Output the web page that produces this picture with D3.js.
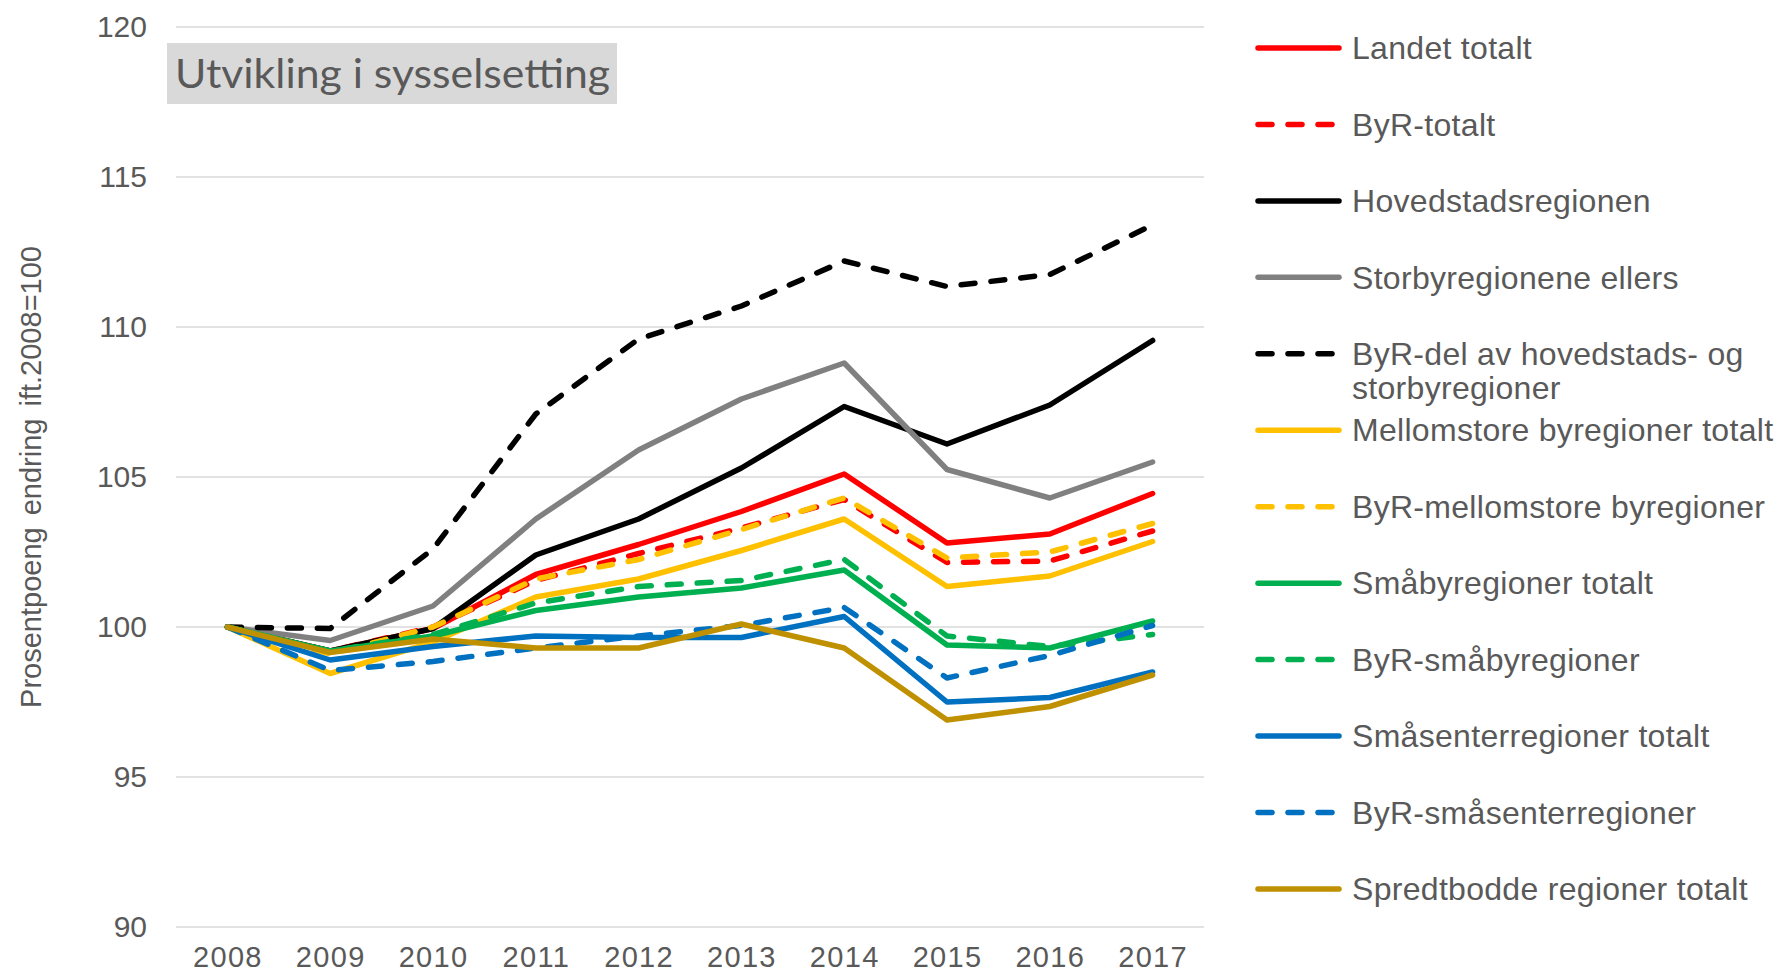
<!DOCTYPE html>
<html>
<head>
<meta charset="utf-8">
<script src="https://cdn.jsdelivr.net/npm/d3@7"></script>
<style>
  body { margin: 0; background: #fff; }
  svg { display: block; }
  text { font-family: "Liberation Sans", Arial, sans-serif; fill: #595959; }
</style>
</head>
<body>
<svg id="svg"></svg>
<script>
const years = [2008, 2009, 2010, 2011, 2012, 2013, 2014, 2015, 2016, 2017];
const yTicks = [90, 95, 100, 105, 110, 115, 120];

const landetTotalt    = [100, 99.2, 99.95, 101.75, 102.75, 103.85, 105.1, 102.8, 103.1, 104.45];
const byrTotalt       = [100, 99.2, 100.0, 101.55, 102.45, 103.3, 104.25, 102.15, 102.2, 103.2];
const hovedstad       = [100, 99.2, 99.95, 102.4, 103.6, 105.3, 107.35, 106.1, 107.4, 109.55];
const storbyEllers    = [100, 99.55, 100.7, 103.6, 105.9, 107.6, 108.8, 105.25, 104.3, 105.5];
const byrDelHovedStor = [100, 99.95, 102.6, 107.1, 109.6, 110.7, 112.2, 111.35, 111.75, 113.4];
const mellomTotalt    = [100, 98.45, 99.5, 101.0, 101.6, 102.55, 103.6, 101.35, 101.7, 102.85];
const byrMellom       = [100, 99.1, 100.0, 101.6, 102.25, 103.25, 104.3, 102.3, 102.5, 103.45];
const smabyTotalt     = [100, 99.2, 99.7, 100.55, 101.0, 101.3, 101.9, 99.4, 99.3, 100.2];
const byrSmaby        = [100, 99.2, 99.75, 100.8, 101.35, 101.55, 102.25, 99.7, 99.35, 99.75];
const smasenterTotalt = [100, 98.9, 99.35, 99.7, 99.65, 99.65, 100.35, 97.5, 97.65, 98.5];
const byrSmasenter    = [100, 98.55, 98.85, 99.3, 99.7, 100.05, 100.65, 98.3, 99.05, 100.05];
const spredtbodde     = [100, 99.15, 99.6, 99.3, 99.3, 100.1, 99.3, 96.9, 97.35, 98.4];

const series = [
  { name: ["Landet totalt"], values: landetTotalt, color: "#ff0000", dashed: false },
  { name: ["ByR-totalt"], values: byrTotalt, color: "#ff0000", dashed: true },
  { name: ["Hovedstadsregionen"], values: hovedstad, color: "#000000", dashed: false },
  { name: ["Storbyregionene ellers"], values: storbyEllers, color: "#808080", dashed: false },
  { name: ["ByR-del av hovedstads- og", "storbyregioner"], values: byrDelHovedStor, color: "#000000", dashed: true },
  { name: ["Mellomstore byregioner totalt"], values: mellomTotalt, color: "#ffc000", dashed: false },
  { name: ["ByR-mellomstore byregioner"], values: byrMellom, color: "#ffc000", dashed: true },
  { name: ["Småbyregioner totalt"], values: smabyTotalt, color: "#00b050", dashed: false },
  { name: ["ByR-småbyregioner"], values: byrSmaby, color: "#00b050", dashed: true },
  { name: ["Småsenterregioner totalt"], values: smasenterTotalt, color: "#0070c0", dashed: false },
  { name: ["ByR-småsenterregioner"], values: byrSmasenter, color: "#0070c0", dashed: true },
  { name: ["Spredtbodde regioner totalt"], values: spredtbodde, color: "#bf9000", dashed: false }
];

const width = 1780;
const height = 976;
const plotLeft = 176, plotRight = 1204, plotTop = 27, plotBottom = 927;

const svg = d3.select("#svg").attr("width", width).attr("height", height);

const x = d3.scalePoint().domain(years).range([plotLeft, plotRight]).padding(0.5);
const y = d3.scaleLinear().domain([90, 120]).range([plotBottom, plotTop]);

// gridlines
svg.append("g")
  .selectAll("line")
  .data(yTicks)
  .enter()
  .append("line")
  .attr("x1", plotLeft)
  .attr("x2", plotRight)
  .attr("y1", d => y(d))
  .attr("y2", d => y(d))
  .attr("stroke", "#d9d9d9")
  .attr("stroke-width", 1.5);

// y axis
const yAxis = svg.append("g")
  .attr("transform", "translate(" + (plotLeft - 1) + ",0)")
  .call(d3.axisLeft(y).tickValues(yTicks).tickSize(0).tickPadding(28));
yAxis.select(".domain").remove();
yAxis.selectAll("text")
  .style("font-family", "'Liberation Sans', Arial, sans-serif")
  .style("font-size", "30px")
  .style("fill", "#595959");

// x axis
const xAxis = svg.append("g")
  .attr("transform", "translate(0," + plotBottom + ")")
  .call(d3.axisBottom(x).tickSize(0).tickPadding(19));
xAxis.select(".domain").remove();
xAxis.selectAll("text")
  .style("font-family", "'Liberation Sans', Arial, sans-serif")
  .style("font-size", "29px")
  .style("letter-spacing", "1.3px")
  .style("fill", "#595959");

// y axis title
svg.append("text")
  .attr("transform", "translate(41," + ((plotTop + plotBottom) / 2) + ") rotate(-90)")
  .attr("text-anchor", "middle")
  .style("font-size", "29px")
  .style("word-spacing", "4px")
  .text("Prosentpoeng endring ift.2008=100");

// lines
const line = d3.line()
  .x((d, i) => x(years[i]))
  .y(d => y(d));

svg.append("g")
  .selectAll("path")
  .data(series)
  .enter()
  .append("path")
  .attr("d", d => line(d.values))
  .attr("fill", "none")
  .attr("stroke", d => d.color)
  .attr("stroke-width", 5.5)
  .attr("stroke-linejoin", "round")
  .attr("stroke-linecap", "round")
  .attr("stroke-dasharray", d => d.dashed ? "14,16" : null);

// title box
const title = svg.append("g");
title.append("rect")
  .attr("x", 167)
  .attr("y", 43)
  .attr("width", 450)
  .attr("height", 61)
  .attr("fill", "#d9d9d9");
title.append("text")
  .attr("x", 175)
  .attr("y", 88)
  .attr("textLength", 435)
  .attr("lengthAdjust", "spacingAndGlyphs")
  .style("font-family", "Lato, 'Open Sans', sans-serif")
  .style("font-size", "40px")
  .text("Utvikling i sysselsetting");

// legend
const legend = svg.append("g")
  .selectAll("g")
  .data(series)
  .enter()
  .append("g")
  .attr("transform", (d, i) => "translate(1255," + (48 + i * 76.45) + ")");

legend.append("line")
  .attr("x1", 3)
  .attr("x2", 84)
  .attr("stroke", d => d.color)
  .attr("stroke-width", 5.5)
  .attr("stroke-linecap", "round")
  .attr("stroke-dasharray", d => d.dashed ? "14,16" : null);

legend.append("text")
  .style("font-size", "32px")
  .style("letter-spacing", "0.3px")
  .selectAll("tspan")
  .data(d => d.name)
  .enter()
  .append("tspan")
  .attr("x", 97)
  .attr("dy", (d, i) => i === 0 ? "0.35em" : "34px")
  .text(d => d);
</script>
</body>
</html>
